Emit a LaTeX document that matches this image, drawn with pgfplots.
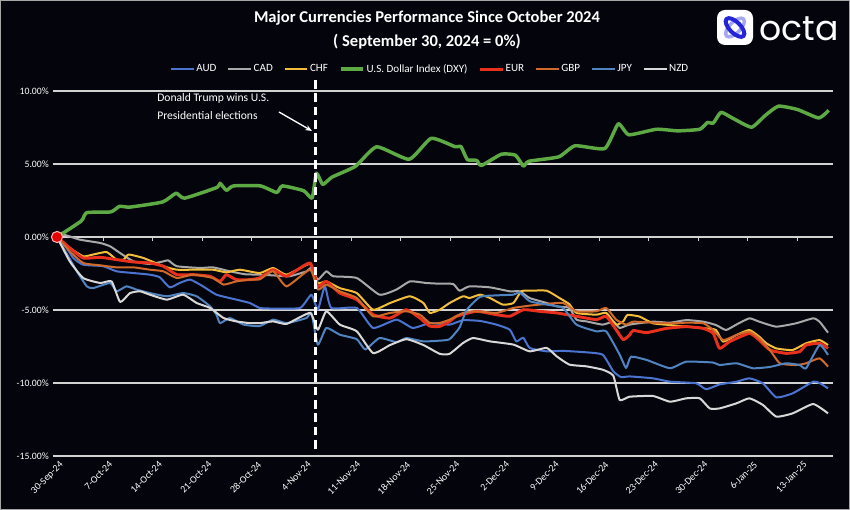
\documentclass[border=0pt]{standalone}
\usepackage{pgfplots}
\pgfplotsset{compat=1.18}
\usepackage{fontspec}
\setmainfont{Carlito}
\newfontfamily\logofont{Poppins}
\usetikzlibrary{arrows.meta}
\definecolor{bg}{HTML}{04040C}
\definecolor{gridc}{HTML}{D2D2D2}
\definecolor{cAUD}{HTML}{4A74D0}
\definecolor{cCAD}{HTML}{A8A8A8}
\definecolor{cCHF}{HTML}{F2BE3A}
\definecolor{cDXY}{HTML}{5DAA45}
\definecolor{cEUR}{HTML}{E8301C}
\definecolor{cGBP}{HTML}{D06A2A}
\definecolor{cJPY}{HTML}{4F84C0}
\definecolor{cNZD}{HTML}{D8D8D8}
\definecolor{logoblue}{HTML}{2424D8}
\definecolor{logolight}{HTML}{A4A8F2}
\begin{document}
\begin{tikzpicture}[x=0.75pt,y=0.75pt]
\fill[bg] (0,0) rectangle (850,510);
\draw[gray!70, line width=0.75pt] (0.5,0.5) rectangle (849.5,509.5);
% title
\node[white, font=\fontsize{12.4}{14}\selectfont\bfseries] at (427,492) {Major Currencies Performance Since October 2024};
\node[white, font=\fontsize{12.4}{14}\selectfont\bfseries] at (427,468) {( September 30, 2024 = 0\%)};
% logo
\fill[white, rounded corners=6] (717,465) rectangle (753,500);
\draw[logolight, line width=2.6pt] (735,482.5) ellipse[x radius=12, y radius=5.5, rotate=45];
\draw[logoblue, line width=3pt] (735,482.5) ellipse[x radius=12, y radius=5.5, rotate=-45];
\node[white, anchor=base west, inner sep=0pt, font=\logofont\fontsize{26}{28}\selectfont] at (759,469) {octa};
% annotation
\node[white, anchor=north west, align=left, inner sep=0pt, font=\fontsize{8.7}{13.8}\selectfont] at (157,417) {Donald Trump wins U.S.\\Presidential elections};
\draw[white, line width=1pt, -{Stealth[length=5pt,width=4pt]}] (279,398) -- (312,379);
\begin{axis}[
  at={(40.125pt,40.5pt)}, anchor=south west,
  scale only axis, width=584.6pt, height=273.75pt,
  xmin=-0.5, xmax=109.5, ymin=-15, ymax=10,
  clip=false,
  axis line style={draw=none},
  tick style={draw=none},
  ytick={-15,-10,-5,0,5,10},
  yticklabels={-15.00\%,-10.00\%,-5.00\%,0.00\%,5.00\%,10.00\%},
  ymajorgrids,
  grid style={gridc, line width=1.6pt},
  xtick={-0.5,6.5,13.5,20.5,27.5,34.5,41.5,48.5,55.5,62.5,69.5,76.5,83.5,90.5,97.5,104.5},
  xticklabels={30-Sep-24,7-Oct-24,14-Oct-24,21-Oct-24,28-Oct-24,4-Nov-24,11-Nov-24,18-Nov-24,25-Nov-24,2-Dec-24,9-Dec-24,16-Dec-24,23-Dec-24,30-Dec-24,6-Jan-25,13-Jan-25},
  x tick label style={xshift=4pt, yshift=-2pt, rotate=45, anchor=north east, white, font=\fontsize{7.4}{8}\selectfont, inner sep=1pt},
  y tick label style={white, font=\fontsize{7.3}{8}\selectfont},
  legend columns=8,
  legend style={at={(0.483,1.06)}, anchor=center, draw=none, fill=none, text=white,
    font=\fontsize{8.3}{9}\selectfont, nodes={inner sep=1.2pt},
    /tikz/every even column/.append style={column sep=7pt}},
  legend image code/.code={\draw[#1] (0pt,0pt) -- (17pt,0pt);},
  every axis plot/.append style={line join=round, smooth, tension=0.3},
]
\addplot[cAUD, line width=1.5pt] coordinates {(0,0) (0.9,-0.4) (2.3,-1.44) (3.7,-1.9) (6.5,-2.0) (8.4,-2.35) (10.8,-2.47) (13.1,-2.58) (14.5,-2.76) (15.9,-3.45) (17.3,-3.15) (18.8,-2.92) (20.6,-3.38) (22.5,-3.95) (25.3,-4.29) (27.2,-4.52) (28.6,-4.86) (30.5,-4.9) (34.3,-4.86) (35.9,-3.95) (36.8,-4.98) (37.8,-3.38) (38.7,-4.86) (42.3,-4.86) (44.6,-6.23) (47.9,-5.66) (50.2,-6.23) (52.6,-5.9) (55.4,-6.0) (57.3,-5.7) (59.7,-5.75) (62.0,-6.0) (63.9,-6.35) (64.8,-7.15) (65.8,-6.9) (66.7,-7.6) (69.1,-7.83) (71.4,-7.8) (74.7,-7.9) (77.0,-8.06) (78.5,-9.2) (79.6,-9.6) (80.8,-9.55) (84.1,-9.68) (86.5,-9.91) (90.2,-10.02) (91.6,-10.43) (93.5,-10.1) (95.9,-9.91) (97.7,-9.68) (99.6,-10.02) (101.5,-10.98) (103.8,-10.71) (106.7,-9.91) (107.6,-10.0) (108.8,-10.37)};
\addlegendentry{AUD}
\addplot[cCAD, line width=1.5pt] coordinates {(0,0) (1,0.15) (3.2,-0.18) (6.1,-0.41) (7.5,-0.64) (8.9,-1.1) (10.8,-1.67) (13.1,-1.85) (15,-1.67) (15.7,-1.6) (16.9,-2.0) (20.2,-2.12) (22.0,-2.08) (24.4,-2.35) (26.5,-2.55) (28.6,-2.58) (30.5,-2.63) (32.8,-2.69) (35.2,-2.35) (35.9,-2.12) (36.8,-2.92) (38.0,-2.35) (39.0,-2.69) (42.3,-2.81) (45.5,-3.95) (47.9,-3.6) (49.8,-3.04) (52.1,-3.15) (54.0,-3.2) (55.9,-3.22) (56.8,-3.68) (58.2,-3.38) (61.1,-3.45) (63.9,-3.72) (65.3,-3.72) (66.7,-4.18) (69.1,-4.52) (70.5,-4.75) (72.3,-4.86) (73.3,-5.66) (74.7,-5.78) (77.0,-6.0) (78.5,-5.8) (79.4,-6.23) (80.8,-6.0) (84.1,-5.8) (86.5,-5.87) (88.8,-5.69) (91.2,-5.8) (93.0,-6.03) (94.4,-6.37) (95.9,-5.99) (97.7,-5.57) (99.1,-5.8) (101.5,-6.14) (104.3,-5.91) (106.7,-5.57) (107.6,-5.8) (108.8,-6.55)};
\addlegendentry{CAD}
\addplot[cCHF, line width=1.5pt] coordinates {(0,0) (1.8,-0.75) (3.7,-1.32) (5.1,-1.2) (7.0,-1.03) (8.4,-1.55) (9.4,-1.55) (10.1,-1.2) (12.2,-1.44) (15.0,-2.0) (16.9,-2.24) (19.2,-2.24) (22.0,-2.24) (23.9,-2.42) (25.8,-2.24) (28.6,-2.47) (30.5,-2.12) (32.4,-2.58) (35.7,-1.85) (36.8,-3.15) (38.0,-3.04) (39.9,-3.5) (42.3,-3.84) (44.6,-4.98) (47.0,-4.52) (49.8,-4.06) (51.7,-4.52) (52.6,-5.2) (54.0,-4.98) (55.4,-4.52) (57.3,-4.06) (58.2,-4.18) (59.7,-3.95) (61.1,-4.18) (62.9,-4.63) (64.4,-4.52) (65.5,-3.72) (66.7,-3.68) (69.1,-3.68) (70.9,-4.18) (72.3,-4.6) (73.3,-5.2) (76.1,-5.32) (77.5,-5.2) (78.9,-6.0) (79.9,-5.78) (80.5,-5.34) (82.2,-5.45) (84.1,-5.91) (86.5,-6.03) (88.8,-6.14) (91.6,-6.26) (93.0,-6.37) (94.0,-7.17) (95.9,-6.71) (97.7,-6.37) (99.1,-6.83) (100.1,-7.28) (101.5,-7.63) (103.8,-7.74) (105.7,-7.28) (107.6,-7.06) (108.8,-7.4)};
\addlegendentry{CHF}
\addplot[cDXY, line width=2.6pt] coordinates {(0,0) (3.4,1.09) (4.2,1.67) (7.6,1.72) (8.8,2.1) (10.3,2.05) (14.9,2.4) (16.8,3.0) (18.0,2.66) (22.6,3.4) (23.0,3.68) (23.9,3.2) (24.9,3.5) (28.7,3.5) (31.0,3.05) (31.8,3.5) (34.8,3.17) (36.0,2.66) (36.6,4.37) (37.5,3.6) (38.8,4.1) (42.1,4.84) (45.1,6.18) (49.7,5.32) (52.8,6.76) (56.2,6.18) (57.0,6.2) (57.9,5.3) (59.2,5.25) (59.9,4.9) (62.7,5.67) (64.7,5.6) (65.8,4.86) (66.6,5.19) (70.8,5.49) (73.1,6.25) (77.3,6.06) (79.2,7.75) (80.7,7.0) (84.6,7.38) (87.6,7.27) (90.7,7.38) (91.8,7.85) (92.6,7.8) (93.7,8.54) (95.3,8.15) (98.0,7.52) (99.9,8.31) (101.8,8.96) (104.5,8.73) (107.5,8.15) (108.9,8.68)};
\addlegendentry{U.S. Dollar Index (DXY)}
\addplot[cEUR, line width=2.2pt] coordinates {(0,0) (1.8,-0.75) (3.7,-1.44) (6.1,-1.39) (8.4,-1.55) (10.8,-1.71) (13.1,-1.78) (15.0,-2.0) (16.9,-2.58) (19.2,-2.58) (21.6,-2.69) (23.0,-3.04) (23.9,-2.58) (25.3,-2.92) (27.2,-2.92) (28.6,-2.8) (30.5,-2.24) (32.4,-2.69) (35.7,-1.78) (36.8,-3.38) (38.0,-3.04) (39.9,-3.84) (42.3,-4.29) (44.6,-5.32) (47.0,-5.55) (49.3,-4.98) (51.2,-5.55) (52.6,-6.1) (54.0,-6.12) (55.4,-5.78) (56.4,-5.43) (59.2,-5.09) (62.0,-5.32) (63.9,-5.43) (65.8,-4.98) (68.1,-5.09) (70.5,-5.2) (73.3,-5.43) (76.1,-5.66) (77.5,-5.43) (78.9,-6.35) (79.9,-7.03) (80.8,-6.71) (81.3,-6.4) (83.2,-6.55) (86.0,-6.26) (88.8,-6.14) (91.2,-6.26) (92.6,-6.6) (93.5,-7.63) (94.9,-7.17) (97.7,-6.6) (99.1,-7.06) (100.6,-7.74) (102.9,-7.97) (104.8,-7.85) (105.7,-7.4) (107.6,-7.28) (108.8,-7.63)};
\addlegendentry{EUR}
\addplot[cGBP, line width=1.5pt] coordinates {(0,0) (1.8,-0.98) (3.7,-1.78) (6.1,-1.94) (8.4,-2.08) (10.8,-2.08) (13.1,-2.24) (15.0,-2.35) (16.9,-2.81) (19.2,-2.58) (22.0,-2.81) (23.5,-3.26) (25.3,-3.04) (27.2,-2.92) (28.6,-2.9) (30.5,-2.35) (32.4,-3.38) (35.7,-2.24) (36.8,-3.6) (38.0,-3.26) (39.9,-3.72) (42.3,-4.18) (44.6,-5.43) (47.0,-5.2) (49.3,-5.09) (51.2,-5.32) (52.6,-5.89) (54.0,-5.89) (55.4,-5.66) (57.3,-5.2) (59.2,-5.09) (62.0,-5.2) (64.4,-4.86) (66.7,-4.7) (68.1,-4.63) (71.4,-4.52) (73.3,-5.09) (76.1,-5.09) (77.5,-4.86) (78.9,-5.66) (80.3,-6.0) (81.3,-5.8) (84.1,-5.87) (86.5,-5.91) (88.8,-5.87) (91.2,-5.91) (92.6,-6.37) (94.0,-7.06) (95.9,-6.71) (97.7,-6.48) (99.1,-6.94) (100.6,-7.74) (102.0,-8.65) (104.3,-8.77) (105.7,-8.65) (107.6,-8.31) (108.8,-8.88)};
\addlegendentry{GBP}
\addplot[cJPY, line width=1.5pt] coordinates {(0,0) (0.9,-0.75) (2.8,-2.35) (4.2,-3.38) (5.1,-3.5) (7.5,-3.15) (8.4,-3.72) (9.8,-3.38) (11.2,-3.6) (13.1,-3.84) (15.5,-4.06) (17.8,-3.84) (19.7,-4.06) (21.6,-4.75) (22.5,-5.32) (23.0,-5.9) (24.4,-5.55) (26.3,-6.0) (28.6,-6.1) (30.5,-5.66) (32.4,-5.9) (35.2,-5.55) (35.9,-5.2) (36.8,-7.37) (38.0,-6.23) (39.9,-6.69) (42.3,-7.0) (43.5,-7.7) (45.5,-6.92) (47.9,-7.2) (49.3,-6.92) (51.7,-7.15) (54.0,-7.1) (55.4,-7.0) (56.8,-6.2) (57.8,-5.0) (59.7,-4.1) (62.0,-4.0) (64.4,-3.95) (65.3,-3.8) (66.7,-4.4) (69.1,-4.63) (71.4,-4.86) (73.3,-6.0) (76.1,-6.46) (77.5,-6.46) (79.4,-8.06) (80.3,-8.97) (81.0,-8.2) (83.2,-8.42) (86.5,-8.99) (88.8,-8.54) (92.6,-8.6) (93.5,-8.77) (95.9,-8.65) (98.2,-8.99) (100.6,-8.9) (102.9,-8.65) (104.8,-8.77) (105.7,-8.99) (107.6,-7.4) (108.8,-8.08)};
\addlegendentry{JPY}
\addplot[cNZD, line width=1.5pt] coordinates {(0,0) (1.8,-1.67) (3.7,-2.81) (6.1,-3.15) (7.7,-3.04) (8.9,-4.45) (10.3,-3.84) (11.7,-3.72) (13.1,-3.95) (15.5,-4.29) (17.8,-3.95) (19.7,-4.52) (21.6,-4.86) (23.5,-5.55) (25.3,-5.78) (27.2,-5.9) (28.6,-5.9) (30.5,-5.78) (32.4,-5.95) (35.7,-5.2) (36.8,-6.35) (38.0,-5.09) (39.9,-6.0) (42.3,-6.46) (44.6,-7.95) (47.0,-7.4) (49.3,-7.0) (51.7,-7.4) (54.0,-8.0) (55.4,-8.0) (57.3,-7.26) (58.7,-6.92) (61.1,-7.15) (64.4,-7.37) (66.7,-7.83) (69.1,-7.6) (70.5,-8.17) (72.3,-8.74) (74.7,-8.86) (77.0,-9.09) (78.5,-9.5) (79.4,-11.16) (80.8,-10.94) (84.1,-10.89) (86.5,-11.28) (88.8,-11.05) (90.7,-11.05) (92.1,-11.74) (93.5,-11.74) (95.9,-11.39) (97.7,-11.05) (99.6,-11.5) (101.5,-12.3) (103.8,-12.08) (106.7,-11.44) (108.8,-12.08)};
\addlegendentry{NZD}
\addplot[forget plot, only marks, mark=*, mark size=4.2pt, mark options={fill=red!90!black, draw=red!30!white, line width=0.8pt}] coordinates {(0,0)};
\pgfplotsinvokeforeach{6.5,13.5,20.5,27.5,34.5,41.5,48.5,55.5,62.5,69.5,76.5,83.5,90.5,97.5,104.5}{
  \draw[gridc, line width=0.75pt] (axis cs:#1,0) -- ++(0pt,-3pt);
}
\draw[white, line width=2.2pt, dash pattern=on 6.5pt off 3.5pt] (axis cs:36.5,-14.5) -- (axis cs:36.5,11);
\end{axis}
\end{tikzpicture}
\end{document}
